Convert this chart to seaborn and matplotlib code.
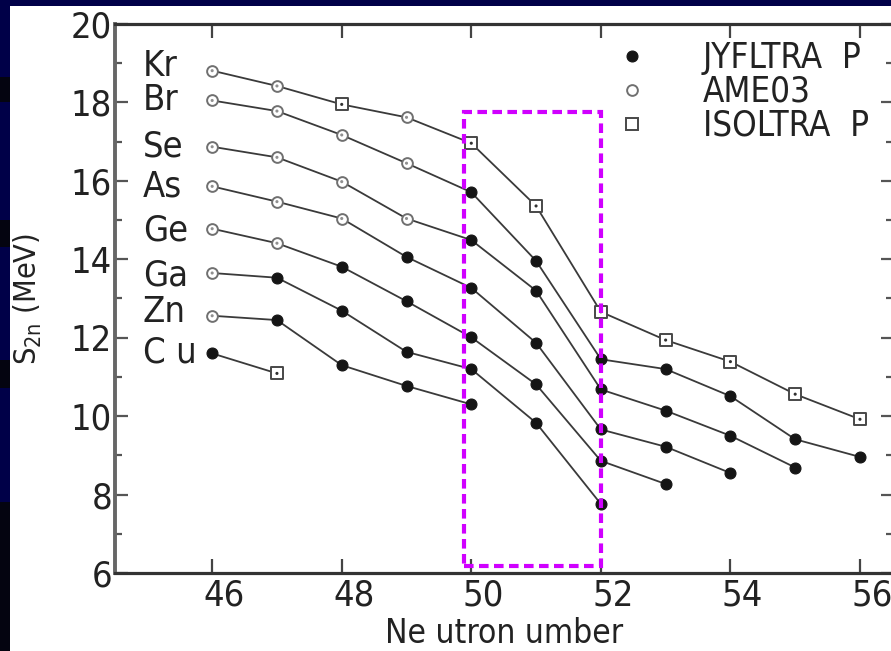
import numpy as np
import pandas as pd
import matplotlib
matplotlib.use("Agg")
import matplotlib.pyplot as plt
import seaborn as sns
from matplotlib import font_manager
from matplotlib.patches import Rectangle
from matplotlib.lines import Line2D
from matplotlib.ticker import MultipleLocator
from matplotlib.transforms import ScaledTranslation

# ---------------- data ----------------
elements = ["Kr", "Br", "Se", "As", "Ge", "Ga", "Zn", "Cu"]
element_labels = ["Kr", "Br", "Se", "As", "Ge", "Ga", "Zn", "C u"]

kr_n = [46, 47, 48, 49, 50, 51, 52, 53, 54, 55, 56]
kr_s = [18.81, 18.42, 17.95, 17.62, 16.96, 15.36, 12.66, 11.94, 11.39, 10.56, 9.92]
kr_src = ["A", "A", "I", "A", "I", "I", "I", "I", "I", "I", "I"]

br_n = [46, 47, 48, 49, 50, 51, 52, 53, 54, 55, 56]
br_s = [18.05, 17.78, 17.17, 16.45, 15.71, 13.96, 11.45, 11.20, 10.51, 9.41, 8.96]
br_src = ["A", "A", "A", "A", "J", "J", "J", "J", "J", "J", "J"]

se_n = [46, 47, 48, 49, 50, 51, 52, 53, 54, 55]
se_s = [16.87, 16.60, 15.98, 15.04, 14.49, 13.20, 10.68, 10.14, 9.50, 8.69]
se_src = ["A", "A", "A", "A", "J", "J", "J", "J", "J", "J"]

as_n = [46, 47, 48, 49, 50, 51, 52, 53, 54]
as_s = [15.86, 15.47, 15.04, 14.06, 13.27, 11.87, 9.66, 9.22, 8.55]
as_src = ["A", "A", "A", "J", "J", "J", "J", "J", "J"]

ge_n = [46, 47, 48, 49, 50, 51, 52, 53]
ge_s = [14.78, 14.41, 13.81, 12.93, 12.01, 10.81, 8.86, 8.27]
ge_src = ["A", "A", "J", "J", "J", "J", "J", "J"]

ga_n = [46, 47, 48, 49, 50, 51, 52]
ga_s = [13.65, 13.53, 12.69, 11.64, 11.20, 9.83, 7.76]
ga_src = ["A", "J", "J", "J", "J", "J", "J"]

zn_n = [46, 47, 48, 49, 50]
zn_s = [12.56, 12.45, 11.30, 10.77, 10.30]
zn_src = ["A", "J", "J", "J", "J"]

cu_n = [46, 47]
cu_s = [11.60, 11.09]
cu_src = ["J", "I"]

sources = ["J", "A", "I"]
source_names = ["JYFLTRA  P", "AME03", "ISOLTRA  P"]

x_ticks = [46, 48, 50, 52, 54, 56]
y_ticks = [6, 8, 10, 12, 14, 16, 18, 20]
x_label = "Ne utron umber"
y_label = "S$_{2n}$ (MeV)"

# rectangle highlighting the N=50 shell closure region
box_x = [49.88, 52.0]
box_y = [6.17, 17.76]

# ---------------- build table ----------------
series = {
    "Kr": (kr_n, kr_s, kr_src), "Br": (br_n, br_s, br_src),
    "Se": (se_n, se_s, se_src), "As": (as_n, as_s, as_src),
    "Ge": (ge_n, ge_s, ge_src), "Ga": (ga_n, ga_s, ga_src),
    "Zn": (zn_n, zn_s, zn_src), "Cu": (cu_n, cu_s, cu_src),
}
rows = []
for el in elements:
    n, s, src = series[el]
    for a, b, c in zip(n, s, src):
        rows.append({"element": el, "N": a, "S2n": b, "source": c})
df = pd.DataFrame(rows)

# ---------------- fonts ----------------
names = {f.name for f in font_manager.fontManager.ttflist}
if "Liberation Sans Narrow" in names:
    FONT = "Liberation Sans Narrow"
    STRETCH = "normal"
else:
    FONT = "DejaVu Sans"
    STRETCH = "condensed"

sns.set_theme(style="white")
plt.rcParams["font.family"] = [FONT, "DejaVu Sans"]
plt.rcParams["font.stretch"] = STRETCH
plt.rcParams["mathtext.fontset"] = "custom"
plt.rcParams["mathtext.rm"] = FONT
plt.rcParams["mathtext.it"] = FONT
plt.rcParams["mathtext.default"] = "rm"

W, H = 891, 651
fig = plt.figure(figsize=(W / 100, H / 100), dpi=100)
fig.patch.set_facecolor("#000048")

# white slide area and dark bands on the left edge
fig.patches.append(Rectangle((10 / W, 0), 1, 1 - 6 / H, transform=fig.transFigure,
                             facecolor="white", edgecolor="none", zorder=-2))
for y0, y1 in [(77, 102), (220, 247), (360, 388), (502, 651)]:
    fig.patches.append(Rectangle((0, 1 - y1 / H), 10 / W, (y1 - y0) / H,
                                 transform=fig.transFigure, facecolor="#040410",
                                 edgecolor="none", zorder=-2))

ax = fig.add_axes([115 / W, 1 - 573 / H, 778 / W, 549 / H])
ax.set_zorder(1)
ax.set_facecolor("none")

# lines
sns.lineplot(data=df, x="N", y="S2n", units="element", estimator=None, sort=False,
             color="#3a3a3a", linewidth=1.3, ax=ax, legend=False, zorder=2)

# markers
styles = {
    "J": dict(marker="o", s=62, color="#151515", edgecolor="#151515", linewidth=0.8),
    "A": dict(marker="o", s=60, color="white", edgecolor="#707070", linewidth=1.4),
    "I": dict(marker="s", s=85, color="white", edgecolor="#484848", linewidth=1.4),
}
for src in sources:
    sub = df[df["source"] == src]
    sns.scatterplot(data=sub, x="N", y="S2n", ax=ax, legend=False, zorder=3, **styles[src])
    if src in ("A", "I"):
        sns.scatterplot(data=sub, x="N", y="S2n", ax=ax, legend=False, zorder=3.5,
                        marker="o", s=5, color="#909090" if src == "A" else "#303030",
                        edgecolor="none")

# element labels
label_base = [18.67, 17.81, 16.61, 15.59, 14.49, 13.34, 12.40, 11.38]
for lab, yb in zip(element_labels, label_base):
    ax.text(44.93, yb, lab, fontsize=26, color="#222222", ha="left", va="baseline")

# dashed box
ax.add_patch(Rectangle((box_x[0], box_y[0]), box_x[1] - box_x[0], box_y[1] - box_y[0],
                       fill=False, edgecolor="#D000FF", linewidth=3.0,
                       linestyle=(0, (2.3, 1.3)), zorder=4))

# legend
handles = [Line2D([], [], linestyle="none", markersize=np.sqrt(styles[s]["s"]),
                  marker=styles[s]["marker"], markerfacecolor=styles[s]["color"],
                  markeredgecolor=styles[s]["edgecolor"],
                  markeredgewidth=styles[s]["linewidth"]) for s in sources]
leg = ax.legend(handles, source_names, loc="upper left",
                bbox_to_anchor=((597 - 115) / 778, 1 - (41 - 24) / 549),
                frameon=False, fontsize=25, handlelength=2.0, handletextpad=1.05,
                labelspacing=0.0, borderpad=0, borderaxespad=0)
for t in leg.get_texts():
    t.set_color("#222222")

# axes
ax.set_xlim(44.5, 56.51)
ax.set_ylim(6, 20)
ax.set_xticks(x_ticks)
ax.set_yticks(y_ticks)
ax.yaxis.set_minor_locator(MultipleLocator(1))
ax.tick_params(axis="x", which="major", direction="in", length=10, width=1.6,
               top=True, bottom=True, colors="#444444", labelcolor="#222222",
               labelsize=26, pad=4)
ax.tick_params(axis="y", which="major", direction="in", length=9, width=1.6,
               left=True, right=True, colors="#555555", labelcolor="#222222",
               labelsize=26, pad=2)
ax.tick_params(axis="y", which="minor", direction="in", length=5, width=1.6,
               left=True, right=True, colors="#555555")

# x tick labels sit slightly to the right of their ticks in the reference
shift = ScaledTranslation(12 / 100, 0, fig.dpi_scale_trans)
for lbl in ax.get_xticklabels():
    lbl.set_transform(lbl.get_transform() + shift)

for side in ["top", "bottom"]:
    ax.spines[side].set_color("#333333")
    ax.spines[side].set_linewidth(2.3)
ax.spines["left"].set_color("#666666")
ax.spines["left"].set_linewidth(2.8)
ax.spines["right"].set_color("#555555")
ax.spines["right"].set_linewidth(2.3)

ax.set_xlabel(x_label, fontsize=24, color="#222222")
ax.set_ylabel(y_label, fontsize=22, color="#222222")
ax.xaxis.set_label_coords(0.5, -(643 - 573) / 549)
ax.xaxis.label.set_va("baseline")
ax.yaxis.set_label_coords((28 - 115) / 778, 0.5)
ax.yaxis.label.set_va("center")

fig.savefig("out.png", dpi=100, facecolor=fig.get_facecolor())
